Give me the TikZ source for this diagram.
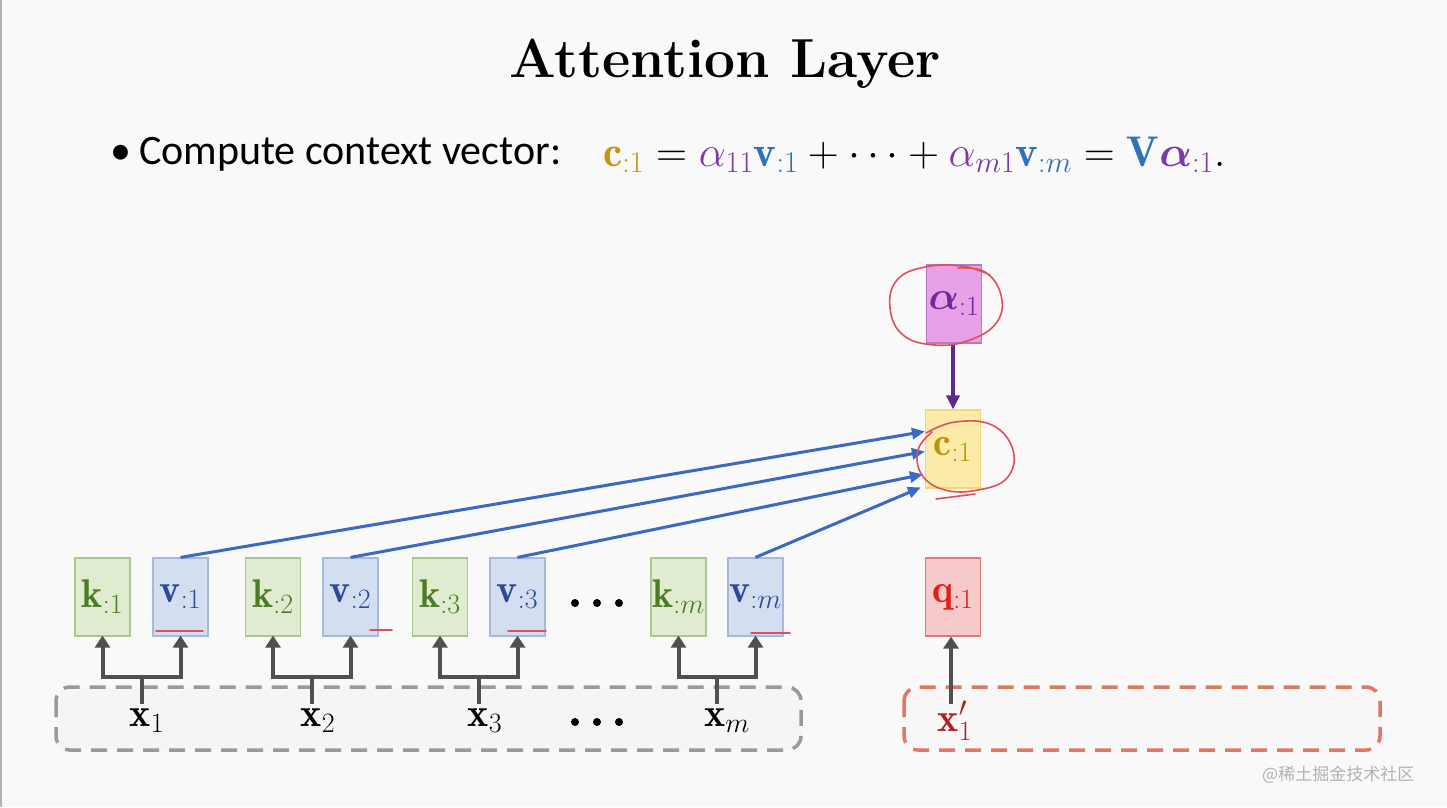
\RequirePackage{fix-cm}
\documentclass[tikz,border=0pt]{standalone}
\usepackage{amsmath,bm}
\usepackage{fontspec}
\newfontfamily\calibri{Carlito}
\newfontfamily\cjk{Noto Sans CJK SC}
\usetikzlibrary{arrows.meta,calc}
\definecolor{bg}{HTML}{F9F9F9}
\definecolor{kfill}{HTML}{DFECCF}
\definecolor{kdraw}{HTML}{A9C98C}
\definecolor{ktext}{HTML}{4A7D26}
\definecolor{vfill}{HTML}{D3DEF1}
\definecolor{vdraw}{HTML}{A6B8DB}
\definecolor{vtext}{HTML}{2D4A94}
\definecolor{qfill}{HTML}{F6CACA}
\definecolor{qdraw}{HTML}{E07A7A}
\definecolor{qtext}{HTML}{E0201A}
\definecolor{cfill}{HTML}{FCEBA8}
\definecolor{cdraw}{HTML}{F0D878}
\definecolor{ctext}{HTML}{B8920E}
\definecolor{afill}{HTML}{E8A0E6}
\definecolor{adraw}{HTML}{B57CC6}
\definecolor{atext}{HTML}{6A2C9A}
\definecolor{eqgold}{HTML}{C8950F}
\definecolor{eqpurple}{HTML}{7A3BA8}
\definecolor{eqblue}{HTML}{2E72B8}
\definecolor{arrblue}{HTML}{3A68C2}
\definecolor{arrpurple}{HTML}{5A2A8C}
\definecolor{forkgray}{HTML}{505050}
\definecolor{dashgray}{HTML}{9A9A9A}
\definecolor{dashred}{HTML}{E07863}
\definecolor{xred}{HTML}{B02020}
\definecolor{ink}{HTML}{E0505C}
\tikzset{
  vecbox/.style={rectangle, minimum width=55pt, minimum height=78pt, inner sep=0pt, line width=1.2pt, font=\fontsize{40}{44}\selectfont},
  kbox/.style={vecbox, fill=kfill, draw=kdraw, text=ktext},
  vbox/.style={vecbox, fill=vfill, draw=vdraw, text=vtext},
  qbox/.style={vecbox, fill=qfill, draw=qdraw, text=qtext},
  cbox/.style={vecbox, fill=cfill, draw=cdraw, text=ctext},
  abox/.style={vecbox, fill=afill, draw=adraw, text=atext},
  xlab/.style={inner sep=0pt, font=\fontsize{40}{44}\selectfont},
  fork/.style={draw=forkgray, line width=4pt},
  forkarrow/.style={fork, -{Triangle[length=12pt,width=15pt]}},
  blueline/.style={draw=arrblue, line width=3pt, -{Triangle[length=13pt,width=11pt]}},
  purplearrow/.style={draw=arrpurple, line width=3.5pt, -{Triangle[length=14pt,width=13pt]}},
  grouprect/.style={rounded corners=14pt, dashed, dash pattern=on 16pt off 10pt, line width=3.5pt},
  redink/.style={draw=ink, line width=1.6pt, line cap=round, line join=round},
}
\begin{document}
\begin{tikzpicture}[x=1pt,y=-1pt]
\useasboundingbox (0,0) rectangle (1447,807);
\fill[bg] (0,0) rectangle (1447,807);
\draw[gray!60, line width=1.5pt] (1,0) -- (1,807);

% title and bullet
\node[anchor=base, inner sep=0pt, font=\fontsize{55}{60}\selectfont\bfseries] (title) at (725,77) {Attention Layer};
\node[anchor=base west, inner sep=0pt, font=\fontsize{42}{46}\selectfont\calibri] (bullet) at (110,164) {\textbullet\hspace{8pt}Compute context vector:};
\node[anchor=base west, inner sep=0pt, font=\fontsize{43}{48}\selectfont] (eq) at (603,166)
 {$\textcolor{eqgold}{\mathbf{c}_{:1}} = \textcolor{eqpurple}{\alpha_{11}}\textcolor{eqblue}{\mathbf{v}_{:1}} + \cdots + \textcolor{eqpurple}{\alpha_{m1}}\textcolor{eqblue}{\mathbf{v}_{:m}} = \textcolor{eqblue}{\mathbf{V}}\textcolor{eqpurple}{\bm{\alpha}_{:1}}.$};

% dashed groups
\filldraw[grouprect, fill=black!4, draw=dashgray] (56,687) rectangle (801,750);
\node[inner sep=0pt] (grp) at (428,718) {};
\filldraw[grouprect, fill=black!3, draw=dashred] (904,687) rectangle (1380,750);
\node[inner sep=0pt] (grpq) at (1142,718) {};

% vector boxes
\node[kbox] (k1) at (102.5,597) {$\mathbf{k}_{:1}$};
\node[vbox] (v1) at (180.5,597) {$\mathbf{v}_{:1}$};
\node[kbox] (k2) at (273,597) {$\mathbf{k}_{:2}$};
\node[vbox] (v2) at (350.5,597) {$\mathbf{v}_{:2}$};
\node[kbox] (k3) at (440,597) {$\mathbf{k}_{:3}$};
\node[vbox] (v3) at (517.5,597) {$\mathbf{v}_{:3}$};
\node[kbox] (km) at (678.5,597) {$\mathbf{k}_{:m}$};
\node[vbox] (vm) at (755.5,597) {$\mathbf{v}_{:m}$};
\node[qbox] (q1) at (953,597) {$\mathbf{q}_{:1}$};
\node[cbox] (c1) at (953,449) {$\mathbf{c}_{:1}$};
\node[abox] (a1) at (954,304) {$\bm{\alpha}_{:1}$};

% dots
\foreach \dx in {-22,0,22} {
  \fill (597+\dx,603) circle (4pt);
  \fill (597+\dx,722) circle (4pt);
}

% x labels
\node[xlab] (x1) at (147,721) {$\mathbf{x}_1$};
\node[xlab] (x2) at (318,721) {$\mathbf{x}_2$};
\node[xlab] (x3) at (485,721) {$\mathbf{x}_3$};
\node[xlab] (xm) at (727,721) {$\mathbf{x}_m$};
\node[xlab, text=xred] (xq) at (955,721) {$\mathbf{x}_1'$};

% fork connectors
\foreach \x/\k/\v in {x1/k1/v1, x2/k2/v2, x3/k3/v3, xm/km/vm} {
  \coordinate (s-\x) at ($(\k.south)!0.5!(\v.south)$);
  \coordinate (b-\x) at (s-\x |- 0,704);
  \coordinate (j-\x) at (s-\x |- 0,677);
  \draw[fork] (b-\x) -- (j-\x);
  \draw[forkarrow] (j-\x) -| ([yshift=1pt]\k.south);
  \draw[forkarrow] (j-\x) -| ([yshift=1pt]\v.south);
}
\coordinate (b-xq) at (951,704);
\draw[forkarrow] (b-xq) -- (b-xq |- q1.south);

% blue arrows to context vector
\draw[blueline] (v1.north) -- ($(c1.north west)+(0,22)$);
\draw[blueline] (v2.north) -- ($(c1.north west)+(0,42)$);
\draw[blueline] (v3.north) -- ($(c1.north west)+(-2,65)$);
\draw[blueline] (vm.north) -- ($(c1.north west)+(-4,78)$);
% alpha to c
\draw[purplearrow] (a1.south -| c1.north) -- (c1.north);

% red hand annotations
\draw[redink] plot[smooth, tension=0.7] coordinates {(958,268) (985,272) (1001,295) (997,322) (970,340) (935,345) (903,335) (890,308) (897,280) (925,267) (962,266) (990,275)};
\draw[redink] plot[smooth, tension=0.7] coordinates {(926,433) (955,422) (992,425) (1013,450) (1007,478) (978,490) (945,490) (922,475) (918,450) (932,432)};
\draw[redink] (936,499) -- (975,494);
\draw[redink] (156,631) -- (203,631);
\draw[redink] (370,630) -- (392,630);
\draw[redink] (508,631) -- (546,631);
\draw[redink] (751,633) -- (790,633);

% watermark
\node[anchor=west, inner sep=0pt, text=black!30, font=\fontsize{17}{20}\selectfont\cjk] (wm) at (1262,775) {@稀土掘金技术社区};
\end{tikzpicture}
\end{document}
